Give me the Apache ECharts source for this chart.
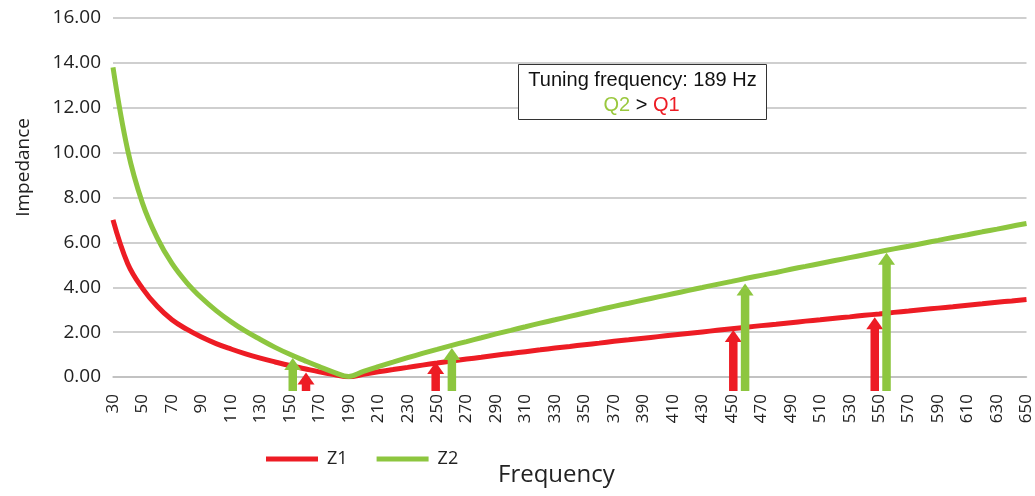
<!DOCTYPE html>
<html>
<head>
<meta charset="utf-8">
<script src="https://cdn.jsdelivr.net/npm/echarts@6/dist/echarts.min.js"></script>
<style>html,body{margin:0;padding:0;background:#fff}#c{width:1035px;height:496px}</style>
</head>
<body>
<div id="c"></div>
<script>
// ---- data ----
const frequencies = [30,40,50,60,70,80,90,100,110,120,130,140,150,160,170,180,190,200,210,220,230,240,250,260,270,280,290,300,310,320,330,340,350,360,370,380,390,400,410,420,430,440,450,460,470,480,490,500,510,520,530,540,550,560,570,580,590,600,610,620,630,640,650];
const z1 = [7.0,5.05,3.95,3.15,2.55,2.13,1.78,1.49,1.25,1.03,0.84,0.67,0.51,0.37,0.23,0.11,0.01,0.12,0.23,0.33,0.43,0.53,0.62,0.71,0.80,0.88,0.97,1.05,1.13,1.21,1.29,1.36,1.44,1.51,1.59,1.66,1.73,1.80,1.87,1.94,2.01,2.08,2.15,2.22,2.29,2.35,2.42,2.49,2.55,2.62,2.68,2.75,2.81,2.88,2.94,3.01,3.07,3.13,3.20,3.26,3.33,3.39,3.45];
const z2 = [13.8,10.1,7.75,6.2,5.06,4.21,3.53,2.96,2.47,2.04,1.67,1.32,1.01,0.73,0.46,0.21,0.02,0.25,0.46,0.66,0.86,1.05,1.23,1.41,1.58,1.75,1.92,2.08,2.24,2.40,2.55,2.70,2.85,3.00,3.15,3.29,3.43,3.57,3.71,3.85,3.99,4.13,4.26,4.40,4.53,4.66,4.80,4.93,5.06,5.19,5.32,5.45,5.58,5.71,5.83,5.96,6.09,6.22,6.34,6.47,6.59,6.72,6.84];
const z1ArrowFreq = [161, 249, 451, 547];
const z1ArrowTop  = [0.2, 0.67, 2.09, 2.66];
const z2ArrowFreq = [152, 260, 459, 555];
const z2ArrowTop  = [0.85, 1.29, 4.17, 5.54];
const yTicks = [0, 16, 2]; // min, max, interval
const noteTitle = 'Tuning frequency: 189 Hz';

const RED = '#ed1c24', GREEN = '#8dc63f';

function arrowRenderer(color) {
  return function (params, api) {
    const f = api.value(0), top = api.value(1);
    const tip = api.coord([f, top]);
    const base = api.coord([f, 0]);
    const shaftW = 8.5, headW = 17, headH = 12;
    const bottom = base[1] + 14;
    return {
      type: 'group',
      children: [
        {type: 'rect', shape: {x: tip[0] - shaftW / 2, y: tip[1] + headH - 1, width: shaftW, height: bottom - (tip[1] + headH - 1)}, style: {fill: color}},
        {type: 'polygon', shape: {points: [[tip[0], tip[1]], [tip[0] - headW / 2, tip[1] + headH], [tip[0] + headW / 2, tip[1] + headH]]}, style: {fill: color}}
      ]
    };
  };
}

const chart = echarts.init(document.getElementById('c'), null, {renderer: 'canvas'});
chart.setOption({
  animation: false,
  backgroundColor: '#fff',
  grid: {left: 113, right: 7, top: 18, bottom: 119, containLabel: false},
  legend: {
    data: ['Z1', 'Z2'],
    left: 261, top: 445,
    itemWidth: 52, itemHeight: 5, itemGap: 29,
    icon: 'rect',
    textStyle: {fontFamily: 'Open Sans', fontSize: 18, color: '#222', padding: [0, 0, 0, 4]}
  },
  xAxis: [{
    type: 'category',
    data: frequencies.map(String),
    boundaryGap: false,
    axisLine: {show: true, lineStyle: {color: '#bfbfbf', width: 1.5}},
    axisTick: {show: false},
    axisLabel: {interval: 1, rotate: 90, margin: 17, fontFamily: 'Open Sans', fontSize: 17, color: '#222'},
    splitLine: {show: false}
  }, {
    type: 'value', min: 30, max: 650, show: false
  }],
  yAxis: {
    type: 'value',
    min: yTicks[0], max: yTicks[1], interval: yTicks[2],
    axisLine: {show: false},
    axisTick: {show: false},
    axisLabel: {margin: 12, fontFamily: 'Open Sans', fontSize: 19, color: '#222', formatter: v => v.toFixed(2)},
    splitLine: {lineStyle: {color: '#bfbfbf', width: 1.5}}
  },
  graphic: [
    {type: 'text', left: 14, top: 118, rotation: Math.PI / 2,
     style: {text: 'Impedance', font: '19px "Open Sans"', fill: '#222'}},
    {type: 'text', left: 498, top: 463,
     style: {text: 'Frequency', font: '24px "Open Sans"', fill: '#222'}},
    {type: 'group', left: 518, top: 64, children: [
      {type: 'rect', z: 100, shape: {x: 0, y: 0, width: 248, height: 55},
       style: {fill: '#fff', stroke: '#333', lineWidth: 1}},
      {type: 'text', z: 101, x: 124, y: 6,
       style: {text: noteTitle, font: '20px "Liberation Sans"', fill: '#111', align: 'center', verticalAlign: 'top'}},
      {type: 'text', z: 101, x: 123, y: 31,
       style: {rich: {g: {fill: '#9ac83e', font: '20px "Liberation Sans"'}, k: {fill: '#111', font: '20px "Liberation Sans"'}, r: {fill: RED, font: '20px "Liberation Sans"'}},
               text: '{g|Q2}{k| > }{r|Q1}', align: 'center', verticalAlign: 'top'}}
    ]}
  ],
  series: [
    {name: 'Z1', type: 'line', data: z1, smooth: 0.4, showSymbol: false, symbol: 'none', color: RED, lineStyle: {width: 5, color: RED}, z: 3},
    {name: 'Z2', type: 'line', data: z2, smooth: 0.4, showSymbol: false, symbol: 'none', color: GREEN, lineStyle: {width: 5, color: GREEN}, z: 3},
    {name: 'Z1 arrows', type: 'custom', xAxisIndex: 1, yAxisIndex: 0, clip: false, z: 4,
     data: z1ArrowFreq.map((f, i) => [f, z1ArrowTop[i]]), renderItem: arrowRenderer(RED)},
    {name: 'Z2 arrows', type: 'custom', xAxisIndex: 1, yAxisIndex: 0, clip: false, z: 4,
     data: z2ArrowFreq.map((f, i) => [f, z2ArrowTop[i]]), renderItem: arrowRenderer(GREEN)}
  ]
});
</script>
</body>
</html>
